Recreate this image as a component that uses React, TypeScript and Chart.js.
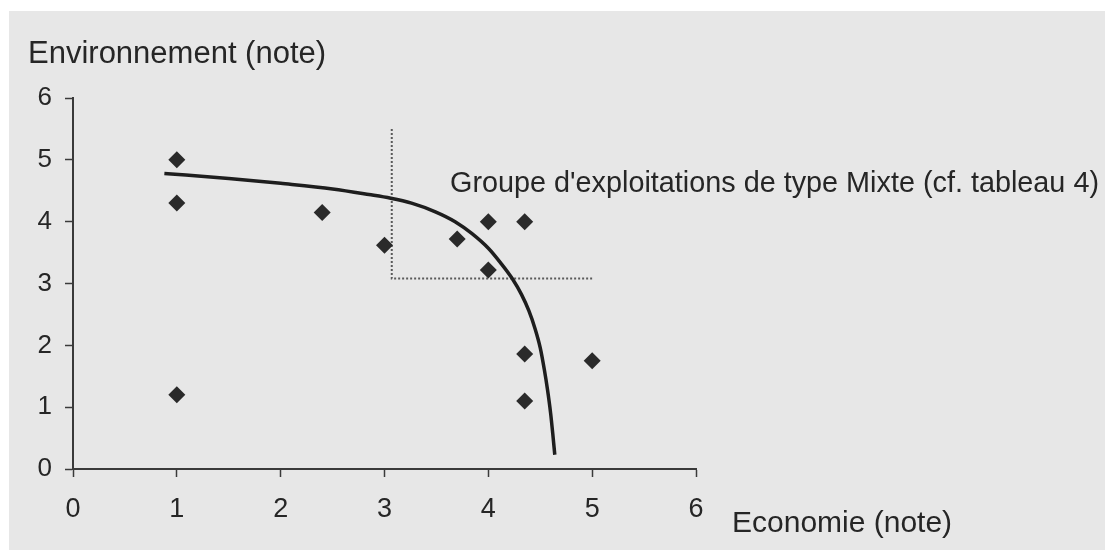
import React, { useEffect, useRef } from "react";
import { Chart, registerables } from "chart.js";

Chart.register(...registerables);

// Tick values (both axes are notes from 0 to 6)
const xTickValues = [0, 1, 2, 3, 4, 5, 6];
const yTickValues = [0, 1, 2, 3, 4, 5, 6];

// Farms (diamonds)
const farmEconomie = [1, 1, 1, 2.4, 3.0, 3.7, 4.0, 4.0, 4.35, 4.35, 4.35, 5.0];
const farmEnvironnement = [5.0, 4.3, 1.2, 4.15, 3.62, 3.72, 4.0, 3.22, 4.0, 1.86, 1.1, 1.75];

// Frontier curve
const frontierEconomie = [
  0.88, 1.5, 2.0, 2.5, 2.85, 3.06, 3.26, 3.49, 3.68, 3.84, 4.0, 4.12, 4.23, 4.32, 4.39, 4.45, 4.5, 4.54,
  4.57, 4.6, 4.62, 4.64,
];
const frontierEnvironnement = [
  4.78, 4.7, 4.62, 4.53, 4.44, 4.38, 4.3, 4.16, 4.0, 3.81, 3.57, 3.33, 3.08, 2.82, 2.56, 2.27, 1.96, 1.6,
  1.28, 0.9, 0.58, 0.23,
];

// Dotted box of the "Mixte" group
const groupEconomie = [3.07, 3.07, 5.0];
const groupEnvironnement = [5.5, 3.08, 3.08];

// Texts
const yTitle = "Environnement (note)";
const xTitle = "Economie (note)";
const groupLabel = "Groupe d'exploitations de type Mixte (cf. tableau 4)";

const FONT = '"Liberation Sans", Arial, Helvetica, sans-serif';
const INK = "#262626";

const zip = (xs: number[], ys: number[]) => xs.map((x, i) => ({ x, y: ys[i] }));

const backgroundPlugin = {
  id: "paper",
  beforeDraw(chart: any) {
    const { ctx, width, height } = chart;
    ctx.save();
    ctx.fillStyle = "#ffffff";
    ctx.fillRect(0, 0, width, height);
    ctx.fillStyle = "#e7e7e7";
    ctx.fillRect(9, 11, width - 9, height - 11);
    ctx.restore();
  },
};

const textPlugin = {
  id: "texts",
  afterDraw(chart: any) {
    const { ctx } = chart;
    ctx.save();
    ctx.fillStyle = INK;
    ctx.textBaseline = "alphabetic";
    ctx.textAlign = "left";
    ctx.font = `31px ${FONT}`;
    ctx.fillText(yTitle, 28, 63);
    ctx.font = `30px ${FONT}`;
    ctx.fillText(xTitle, 732, 532);
    ctx.font = `28.8px ${FONT}`;
    ctx.fillText(groupLabel, 450, 192);
    ctx.restore();
  },
};

export default function App() {
  const ref = useRef<HTMLCanvasElement | null>(null);

  useEffect(() => {
    document.body.style.margin = "0";
    const canvas = ref.current;
    if (!canvas) return;
    const chart = new Chart(canvas, {
      type: "scatter",
      data: {
        datasets: [
          {
            label: "Exploitations",
            data: zip(farmEconomie, farmEnvironnement),
            pointStyle: "rectRot",
            pointRadius: 8.5,
            pointHoverRadius: 8.5,
            backgroundColor: "#2a2a2a",
            borderColor: "#2a2a2a",
            borderWidth: 0,
            showLine: false,
            order: 0,
          },
          {
            label: "Frontière",
            data: zip(frontierEconomie, frontierEnvironnement),
            showLine: true,
            borderColor: "#1e1e1e",
            borderWidth: 3.5,
            pointRadius: 0,
            cubicInterpolationMode: "monotone",
            fill: false,
            order: 1,
          },
          {
            label: "Groupe Mixte",
            data: zip(groupEconomie, groupEnvironnement),
            showLine: true,
            borderColor: "#5a5a5a",
            borderWidth: 2,
            borderDash: [2, 2],
            pointRadius: 0,
            tension: 0,
            fill: false,
            order: 2,
          },
        ],
      },
      options: {
        animation: false,
        responsive: false,
        maintainAspectRatio: false,
        events: [],
        layout: { padding: { left: 0, top: 98, right: 409, bottom: 0 } },
        plugins: {
          legend: { display: false },
          tooltip: { enabled: false },
          title: { display: false },
        },
        scales: {
          x: {
            type: "linear",
            min: 0,
            max: 6,
            afterFit: (s: any) => {
              s.height = 81;
            },
            afterBuildTicks: (s: any) => {
              s.ticks = xTickValues.map((v) => ({ value: v }));
            },
            ticks: {
              color: INK,
              font: { family: FONT, size: 27 },
              padding: 16,
              maxRotation: 0,
            },
            grid: {
              drawOnChartArea: false,
              drawTicks: true,
              tickLength: 8,
              tickWidth: 1.5,
              tickColor: "#3a3a3a",
            },
            border: { display: true, color: "#3a3a3a", width: 2 },
          },
          y: {
            type: "linear",
            min: 0,
            max: 6,
            afterFit: (s: any) => {
              s.width = 73;
            },
            afterBuildTicks: (s: any) => {
              s.ticks = yTickValues.map((v) => ({ value: v }));
            },
            ticks: {
              color: INK,
              font: { family: FONT, size: 26 },
              padding: 13,
            },
            grid: {
              drawOnChartArea: false,
              drawTicks: true,
              tickLength: 8,
              tickWidth: 1.5,
              tickColor: "#3a3a3a",
            },
            border: { display: true, color: "#3a3a3a", width: 2 },
          },
        },
      },
      plugins: [backgroundPlugin, textPlugin],
    } as any);
    return () => chart.destroy();
  }, []);

  return (
    <div style={{ width: 1105, height: 550 }}>
      <canvas ref={ref} width={1105} height={550} style={{ display: "block", width: 1105, height: 550 }} />
    </div>
  );
}
